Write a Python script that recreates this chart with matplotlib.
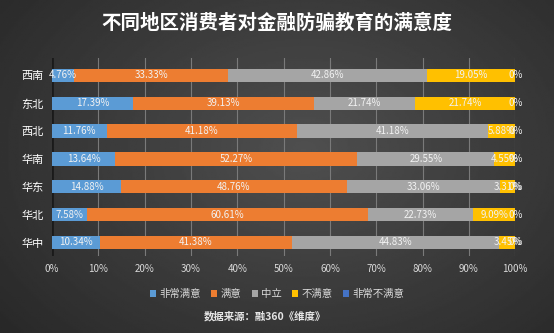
import numpy as np
import matplotlib
matplotlib.use('Agg')
import matplotlib.pyplot as plt

plt.rcParams['font.family'] = ['Noto Sans CJK SC', 'DejaVu Sans']

regions = ['西南', '东北', '西北', '华南', '华东', '华北', '华中']
series_names = ['非常满意', '满意', '中立', '不满意', '非常不满意']
very_satisfied = [4.76, 17.39, 11.76, 13.64, 14.88, 7.58, 10.34]
satisfied = [33.33, 39.13, 41.18, 52.27, 48.76, 60.61, 41.38]
neutral = [42.86, 21.74, 41.18, 29.55, 33.06, 22.73, 44.83]
unsatisfied = [19.05, 21.74, 5.88, 4.55, 3.31, 9.09, 3.45]
very_unsatisfied = [0, 0, 0, 0, 0, 0, 0]
xticks = [0, 10, 20, 30, 40, 50, 60, 70, 80, 90, 100]

colors = ['#5B9BD5', '#ED7D31', '#A5A5A5', '#FFC000', '#4472C4']
values = [very_satisfied, satisfied, neutral, unsatisfied, very_unsatisfied]

fig = plt.figure(figsize=(5.54, 3.33), dpi=100)

# dark radial background
bg = fig.add_axes([0, 0, 1, 1])
yy, xx = np.mgrid[0:1:200j, 0:1:330j]
r = np.sqrt(((xx - 0.55) / 0.75) ** 2 + ((yy - 0.45) / 0.9) ** 2)
shade = np.clip(0.31 - 0.16 * r, 0.12, 0.31)
bg.imshow(shade, cmap='gray', vmin=0, vmax=1, aspect='auto', extent=[0, 1, 0, 1])
bg.axis('off')

ax = fig.add_axes([0.094, 0.231, 0.836, 0.595])
ax.set_facecolor('none')

y = np.arange(len(regions))
left = np.zeros(len(regions))
for name, vals, c in zip(series_names, values, colors):
    vals = np.array(vals)
    ax.barh(y, vals, left=left, height=0.48, color=c, label=name, zorder=3)
    for yi, l, v in zip(y, left, vals):
        ax.text(l + v / 2, yi, f'{v:.2f}%' if v > 0 else '0%', ha='center', va='center',
                fontsize=7, color='#f2f2f2', zorder=4)
    left += vals

ax.set_xlim(0, 100)
ax.set_ylim(6.49, -0.63)
ax.set_xticks(xticks)
ax.set_xticklabels([f'{t}%' for t in xticks])
ax.set_yticks(y)
ax.set_yticklabels(regions)
ax.tick_params(axis='x', length=0, pad=6, labelsize=7, colors='#d9d9d9')
ax.tick_params(axis='y', length=0, pad=6, labelsize=8, colors='#ffffff')
ax.grid(axis='x', color='#7a7a7a', linewidth=0.8, zorder=0)
for s in ax.spines.values():
    s.set_visible(False)
ax.axvline(0, color='#1a1a1a', linewidth=2, zorder=2)

fig.text(0.5, 0.93, '不同地区消费者对金融防骗教育的满意度', ha='center', va='center',
         fontsize=14, fontweight='bold', color='#ffffff')

leg = fig.legend(loc='center', bbox_to_anchor=(0.5, 0.117), ncol=5, frameon=False,
                 fontsize=7.5, handlelength=0.6, handleheight=0.6, handletextpad=0.3,
                 columnspacing=1.0, labelcolor='#d9d9d9')

fig.text(0.478, 0.05, '数据来源：融360《维度》', ha='center', va='center',
         fontsize=7.5, fontweight='bold', color='#e6e6e6')

fig.savefig('out.png', dpi=100)
